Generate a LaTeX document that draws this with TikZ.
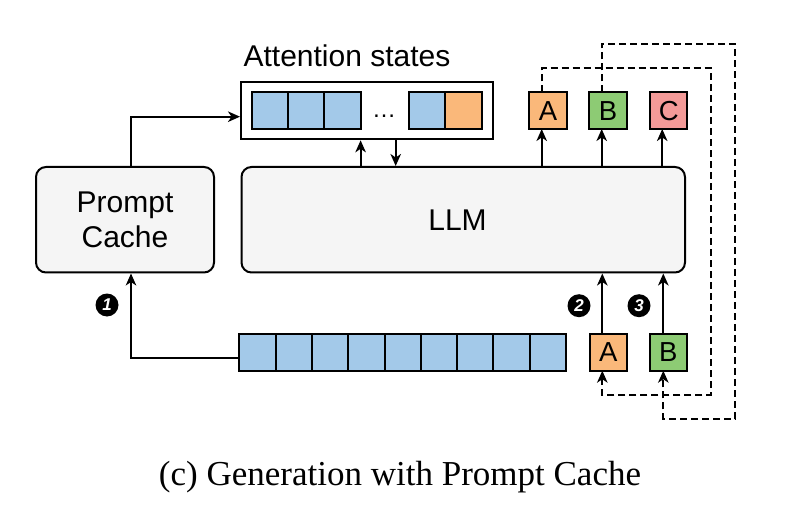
\documentclass[tikz,border=0pt]{standalone}
\usepackage{fontspec}
\setmainfont{Liberation Serif}
\setsansfont{Liberation Sans}
\usetikzlibrary{arrows.meta}
\definecolor{cellblue}{HTML}{A3C9E9}
\definecolor{tokorange}{HTML}{FAB87A}
\definecolor{tokgreen}{HTML}{8DCB74}
\definecolor{tokred}{HTML}{F49A98}
\definecolor{boxgray}{HTML}{F5F5F5}
\begin{document}
\begin{tikzpicture}[x=1pt,y=-1pt,
 bigbox/.style={draw, line width=2pt, rounded corners=10pt, fill=boxgray, inner sep=0pt, font=\sffamily\fontsize{30}{35}\selectfont, align=center},
 cell/.style={draw, line width=2pt, fill=cellblue, minimum width=36.3pt, minimum height=36.4pt, inner sep=0pt, outer sep=0pt, anchor=west},
 tok/.style={draw, line width=2pt, minimum width=37.3pt, minimum height=36.7pt, inner sep=0pt, outer sep=0pt, font=\sffamily\fontsize{27.5}{27.5}\selectfont},
 conn/.style={line width=1.8pt, -{Stealth[length=12pt,width=10.5pt,inset=3.5pt]}},
 dconn/.style={conn, dash pattern=on 7pt off 4pt},
 num/.style={circle, fill=black, minimum size=23pt, inner sep=0pt, text=white, font=\sffamily\bfseries\itshape\fontsize{17}{17}\selectfont},
]
\useasboundingbox (0,0) rectangle (800,529);

% main boxes
\node[bigbox, minimum width=178pt, minimum height=105.5pt] (pc) at (125,219.75) {Prompt\\Cache};
\node[bigbox, minimum width=443.5pt, minimum height=105.5pt] (llm) at (463.25,219.75) {};
\node[font=\sffamily\fontsize{30}{30}\selectfont] (llmlbl) at (457.5,219.75) {LLM};

% attention states
\node[draw, line width=2pt, fill=white, minimum width=251.7pt, minimum height=57.6pt, inner sep=0pt] (att) at (366.85,110.5) {};
\node[font=\sffamily\fontsize{30}{30}\selectfont, anchor=base] (attlbl) at (347,66.7) {Attention states};
\node[cell] (a1) at (251.7,110.5) {};
\node[cell] (a2) at (a1.east) {};
\node[cell] (a3) at (a2.east) {};
\node[font=\sffamily\fontsize{24}{24}\selectfont, anchor=base] (dots) at (384,118) {…};
\node[cell] (a4) at (409,110.5) {};
\node[cell, fill=tokorange] (a5) at (a4.east) {};

% input cells
\node[cell] (i1) at (239.3,352.35) {};
\node[cell] (i2) at (i1.east) {};
\node[cell] (i3) at (i2.east) {};
\node[cell] (i4) at (i3.east) {};
\node[cell] (i5) at (i4.east) {};
\node[cell] (i6) at (i5.east) {};
\node[cell] (i7) at (i6.east) {};
\node[cell] (i8) at (i7.east) {};
\node[cell] (i9) at (i8.east) {};

% tokens
\node[tok, fill=tokorange] (tA) at (548,110.65) {A};
\node[tok, fill=tokgreen] (tB) at (608,110.65) {B};
\node[tok, fill=tokred] (tC) at (668.7,110.65) {C};
\node[tok, fill=tokorange] (bA) at (608.3,352.35) {A};
\node[tok, fill=tokgreen] (bB) at (668.3,352.35) {B};

% step numbers
\node[num] (n1) at (107,305) {1};
\node[num] (n2) at (579,305.7) {2};
\node[num] (n3) at (639,305.7) {3};

% connectors
\draw[conn] ([xshift=6pt]pc.north) |- ([yshift=-6.2pt]att.west);
\draw[conn] ([yshift=-6pt]i1.west) -| ([xshift=6pt]pc.south);
\coordinate (dn) at (395.7,0);
\draw[conn] (a3.east |- llm.north) -- (a3.east |- att.south);
\draw[conn] (dn |- att.south) -- (dn |- llm.north);
\draw[conn] ([xshift=-6.3pt]tA.south |- llm.north) -- ([xshift=-6.3pt]tA.south);
\draw[conn] ([xshift=-6.3pt]tB.south |- llm.north) -- ([xshift=-6.3pt]tB.south);
\draw[conn] ([xshift=-6.5pt]tC.south |- llm.north) -- ([xshift=-6.5pt]tC.south);
\draw[conn] ([xshift=-6pt]bA.north) -- ([xshift=-6pt]bA.north |- llm.south);
\draw[conn] ([xshift=-5pt]bB.north) -- ([xshift=-5pt]bB.north |- llm.south);

% feedback (dashed)
\coordinate (rA) at (710.7,68.3);
\coordinate (rA2) at (710.7,395);
\coordinate (rB) at (735,44);
\coordinate (rB2) at (735,419);
\draw[dconn] ([xshift=-6.3pt]tA.north) |- (rA) -- (rA2) -| ([xshift=-6pt]bA.south);
\draw[dconn] ([xshift=-6.3pt]tB.north) |- (rB) -- (rB2) -| ([xshift=-5pt]bB.south);

% caption
\node[font=\fontsize{35}{35}\selectfont, anchor=base] (cap) at (400,485) {(c) Generation with Prompt Cache};
\end{tikzpicture}
\end{document}
